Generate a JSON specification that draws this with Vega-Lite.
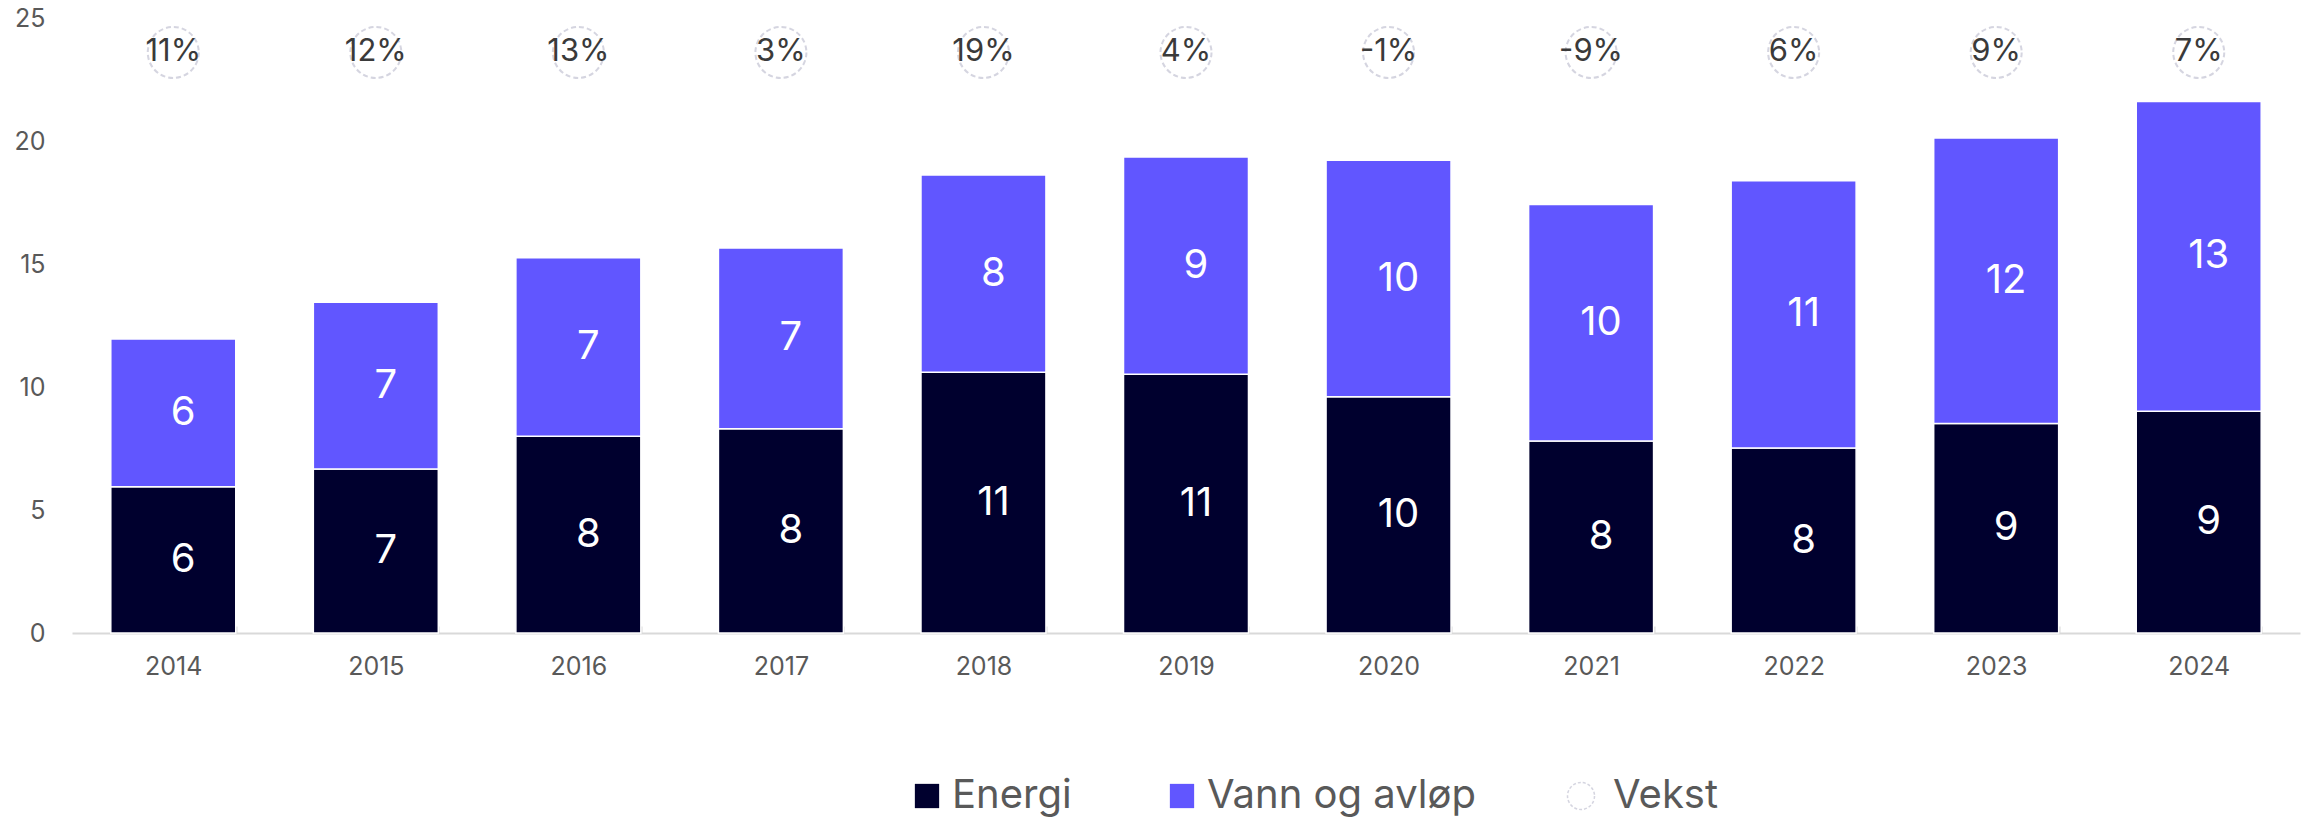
{
  "$schema": "https://vega.github.io/schema/vega-lite/v6.json",
  "width": 2228,
  "height": 615,
  "autosize": "none",
  "padding": {"left": 72, "top": 18, "right": 15, "bottom": 184},
  "background": "white",
  "config": {"view": {"stroke": null}, "font": "Inter"},
  "datasets": {
    "bars": [
      {"year": "2014", "serie": "Energi", "value": 5.95},
      {"year": "2014", "serie": "Vann og avløp", "value": 6.0},
      {"year": "2015", "serie": "Energi", "value": 6.67},
      {"year": "2015", "serie": "Vann og avløp", "value": 6.78},
      {"year": "2016", "serie": "Energi", "value": 8.0},
      {"year": "2016", "serie": "Vann og avløp", "value": 7.25},
      {"year": "2017", "serie": "Energi", "value": 8.3},
      {"year": "2017", "serie": "Vann og avløp", "value": 7.35},
      {"year": "2018", "serie": "Energi", "value": 10.6},
      {"year": "2018", "serie": "Vann og avløp", "value": 8.02},
      {"year": "2019", "serie": "Energi", "value": 10.52},
      {"year": "2019", "serie": "Vann og avløp", "value": 8.83},
      {"year": "2020", "serie": "Energi", "value": 9.6},
      {"year": "2020", "serie": "Vann og avløp", "value": 9.62},
      {"year": "2021", "serie": "Energi", "value": 7.8},
      {"year": "2021", "serie": "Vann og avløp", "value": 9.62},
      {"year": "2022", "serie": "Energi", "value": 7.52},
      {"year": "2022", "serie": "Vann og avløp", "value": 10.86},
      {"year": "2023", "serie": "Energi", "value": 8.52},
      {"year": "2023", "serie": "Vann og avløp", "value": 11.6},
      {"year": "2024", "serie": "Energi", "value": 9.01},
      {"year": "2024", "serie": "Vann og avløp", "value": 12.6}
    ],
    "vekst": [
      {"year": "2014", "label": "11%"},
      {"year": "2015", "label": "12%"},
      {"year": "2016", "label": "13%"},
      {"year": "2017", "label": "3%"},
      {"year": "2018", "label": "19%"},
      {"year": "2019", "label": "4%"},
      {"year": "2020", "label": "-1%"},
      {"year": "2021", "label": "-9%"},
      {"year": "2022", "label": "6%"},
      {"year": "2023", "label": "9%"},
      {"year": "2024", "label": "7%"}
    ]
  },
  "encoding": {
    "x": {
      "field": "year",
      "type": "ordinal",
      "title": null,
      "scale": {"paddingInner": 0.383, "paddingOuter": 0.1915},
      "axis": {
        "labelAngle": 0,
        "labelFontSize": 25,
        "labelColor": "#595959",
        "labelPadding": 28,
        "tickBand": "extent",
        "tickSize": -7,
        "tickColor": "#d9d9d9",
        "tickWidth": 2,
        "domainColor": "#d9d9d9",
        "domainWidth": 2,
        "grid": false
      }
    }
  },
  "layer": [
    {
      "data": {"name": "bars"},
      "mark": {"type": "bar", "stroke": "white", "strokeWidth": 1.5},
      "encoding": {
        "y": {
          "field": "value",
          "type": "quantitative",
          "stack": "zero",
          "title": null,
          "scale": {"domain": [0, 25], "nice": false},
          "axis": {
            "values": [0, 5, 10, 15, 20, 25],
            "labelFontSize": 25,
            "labelColor": "#595959",
            "labelPadding": 27,
            "ticks": false,
            "tickSize": 0,
            "domain": false,
            "grid": false
          }
        },
        "color": {
          "field": "serie",
          "type": "nominal",
          "scale": {
            "domain": ["Energi", "Vann og avløp"],
            "range": ["#00002E", "#6156FF"]
          },
          "legend": {
            "title": null,
            "orient": "none",
            "direction": "horizontal",
            "legendX": 835,
            "legendY": 758,
            "labelFontSize": 40,
            "labelColor": "#595959",
            "labelOffset": 5,
            "labelLimit": 1000,
            "columnPadding": 90,
            "symbolType": "square",
            "symbolSize": 590,
            "symbolStrokeColor": "transparent",
            "encode": {
              "labels": {"dy": {"value": -7}}
            }
          }
        },
        "order": {"field": "serie", "sort": "ascending"}
      }
    },
    {
      "data": {"name": "bars"},
      "mark": {"type": "text", "color": "white", "fontSize": 40, "dx": 10, "baseline": "middle"},
      "encoding": {
        "y": {"field": "value", "type": "quantitative", "stack": "zero", "bandPosition": 0.5},
        "text": {"field": "value", "type": "quantitative", "format": ".0f"},
        "detail": {"field": "serie"},
        "order": {"field": "serie", "sort": "ascending"}
      }
    },
    {
      "data": {"name": "vekst"},
      "mark": {"type": "point", "filled": false, "stroke": "#c4c4d4", "strokeWidth": 2, "strokeDash": [5, 3], "size": 2601},
      "encoding": {
        "y": {"datum": 23.6, "type": "quantitative"},
        "shape": {
          "datum": "Vekst",
          "scale": {"domain": ["Vekst"], "range": ["circle"]},
          "legend": {
            "title": null,
            "orient": "none",
            "legendX": 1489,
            "legendY": 758,
            "labelFontSize": 40,
            "labelColor": "#595959",
            "labelOffset": 12,
            "labelLimit": 1000,
            "symbolSize": 729,
            "symbolFillColor": "transparent",
            "symbolStrokeColor": "#c4c4d4",
            "symbolStrokeWidth": 1.5,
            "symbolDash": [3, 2],
            "encode": {
              "labels": {"dy": {"value": -7}}
            }
          }
        }
      }
    },
    {
      "data": {"name": "vekst"},
      "mark": {"type": "text", "color": "#3a3a3a", "fontSize": 31, "baseline": "middle"},
      "encoding": {
        "y": {"datum": 23.6, "type": "quantitative"},
        "text": {"field": "label"}
      }
    }
  ]
}
